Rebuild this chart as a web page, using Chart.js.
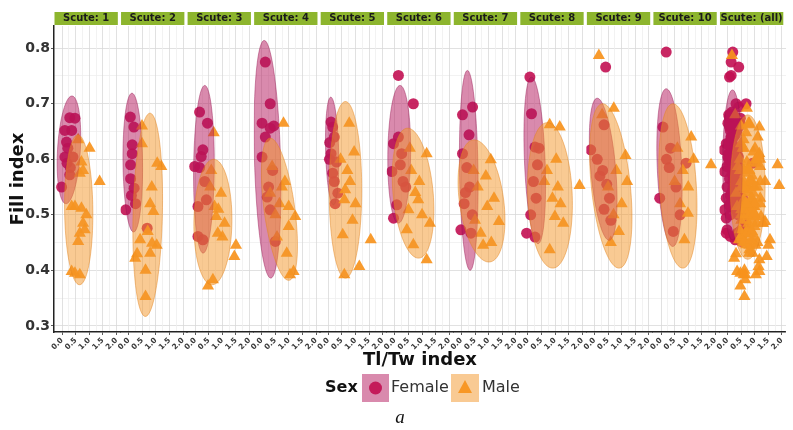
<!DOCTYPE html>
<html>
<head>
<meta charset="utf-8">
<script src="https://cdn.jsdelivr.net/npm/chart.js@4.4.0/dist/chart.umd.min.js"></script>
<style>
  html, body { margin: 0; padding: 0; background: #fff; overflow: hidden; }
</style>
</head>
<body>
<canvas id="chart" width="793" height="430"></canvas>
<script>
// facet labels
const facetLabels = ["Scute: 1", "Scute: 2", "Scute: 3", "Scute: 4", "Scute: 5",
  "Scute: 6", "Scute: 7", "Scute: 8", "Scute: 9", "Scute: 10", "Scute: (all)"];

// axis ticks
const xTicks = [0, 0.5, 1, 1.5, 2];
const xMinorTicks = [0.25, 0.75, 1.25, 1.75];
const yTicks = [0.3, 0.4, 0.5, 0.6, 0.7, 0.8];
const yMinorTicks = [0.35, 0.45, 0.55, 0.65, 0.75];

// female (Tl/Tw index, Fill index), one list per scute
const femaleX = [
  [0.28, 0.47, 0.10, 0.35, 0.16, 0.10, 0.40, 0.28, -0.02, 0.21, 0.18, 0.30],
  [0.06, 0.19, 0.13, 0.13, 0.07, 0.07, -0.11, 0.25, 0.68, 0.20, 0.10],
  [0.16, 0.45, 0.28, 0.22, -0.02, 0.16, 0.10, 0.10, 0.41, 0.28, 0.35],
  [0.13, 0.31, 0.01, 0.31, 0.44, 0.13, 0.01, 0.20, 0.31, 0.50, 0.40, 0.25],
  [0.10, 0.16, 0.22, 0.10, 0.04, 0.16, 0.22, 0.35, 0.25, 0.30, 0.05],
  [0.13, 0.68, -0.05, 0.13, 0.25, -0.11, 0.07, -0.05, 0.30, 0.20, 0.40],
  [0.04, 0.41, 0.28, 0.04, 0.20, 0.30, 0.10, -0.02, 0.35, 0.40, 0.15],
  [0.07, 0.13, 0.26, 0.35, 0.20, 0.30, 0.26, -0.05, 0.10, 0.40],
  [0.41, 0.35, -0.14, 0.10, 0.30, 0.45, 0.55, 0.35, 0.60, 0.20],
  [0.19, 0.07, 0.35, 0.30, 0.92, 0.55, -0.05, 0.70, 0.45, 0.20]
];
const femaleY = [
  [0.675, 0.674, 0.652, 0.652, 0.631, 0.604, 0.604, 0.572, 0.550, 0.620, 0.593, 0.585],
  [0.676, 0.658, 0.626, 0.610, 0.590, 0.565, 0.509, 0.520, 0.476, 0.548, 0.535],
  [0.685, 0.665, 0.617, 0.605, 0.587, 0.585, 0.515, 0.461, 0.527, 0.455, 0.560],
  [0.775, 0.700, 0.665, 0.656, 0.660, 0.640, 0.604, 0.532, 0.509, 0.452, 0.580, 0.550],
  [0.667, 0.658, 0.640, 0.610, 0.600, 0.575, 0.560, 0.539, 0.520, 0.595, 0.630],
  [0.751, 0.700, 0.628, 0.640, 0.610, 0.578, 0.518, 0.494, 0.560, 0.590, 0.550],
  [0.680, 0.694, 0.644, 0.610, 0.585, 0.550, 0.520, 0.473, 0.467, 0.500, 0.540],
  [0.748, 0.682, 0.622, 0.590, 0.560, 0.530, 0.460, 0.467, 0.500, 0.620],
  [0.766, 0.662, 0.617, 0.600, 0.580, 0.555, 0.530, 0.510, 0.490, 0.570],
  [0.793, 0.658, 0.620, 0.585, 0.593, 0.550, 0.530, 0.500, 0.470, 0.600]
];

// male
const maleX = [
  [1.01, 0.59, 0.71, 0.65, 1.38, 0.77, 0.35, 0.47, 0.71, 0.89, 0.77, 0.83, 0.65, 0.59, 0.35, 0.65, 0.47],
  [0.49, 0.49, 1.05, 1.20, 0.85, 0.79, 0.91, 0.42, 0.86, 1.03, 0.24, 0.79, 0.62, 0.62, 0.31, 0.70],
  [0.68, 0.59, 0.95, 0.77, 1.08, 0.83, 1.50, 1.44, 0.47, 0.65, 0.71, 0.55, 0.85, 1.00],
  [0.80, 0.38, 0.74, 0.31, 0.99, 1.23, 0.99, 0.92, 1.17, 1.04, 0.56, 0.65, 0.85, 0.50],
  [0.77, 0.95, 0.59, 0.89, 0.53, 1.56, 1.14, 0.59, 0.70, 0.80, 0.45, 1.00, 0.62],
  [1.17, 1.29, 0.44, 0.68, 1.17, 0.50, 0.86, 0.60, 0.90, 0.75, 1.00, 0.55],
  [1.08, 0.95, 1.38, 0.71, 0.60, 0.90, 1.20, 0.50, 0.80, 1.10, 0.45],
  [0.80, 1.17, 1.04, 0.99, 1.30, 0.80, 1.90, 0.60, 0.90, 1.10, 0.70, 1.20],
  [0.16, 0.71, 0.28, 1.14, 0.80, 0.50, 1.00, 0.70, 0.90, 0.60, 1.20],
  [1.11, 1.84, 0.80, 1.00, 0.99, 0.86, 0.60, 0.70, 1.20, 0.50]
];
const maleY = [
  [0.620, 0.635, 0.595, 0.575, 0.560, 0.580, 0.515, 0.515, 0.512, 0.500, 0.485, 0.473, 0.467, 0.452, 0.398, 0.392, 0.395],
  [0.660, 0.628, 0.593, 0.587, 0.550, 0.520, 0.506, 0.455, 0.449, 0.445, 0.422, 0.431, 0.400, 0.353, 0.430, 0.470],
  [0.648, 0.580, 0.539, 0.497, 0.485, 0.467, 0.445, 0.425, 0.372, 0.383, 0.515, 0.550, 0.510, 0.460],
  [0.665, 0.587, 0.550, 0.539, 0.515, 0.497, 0.479, 0.431, 0.398, 0.392, 0.460, 0.520, 0.560, 0.500],
  [0.665, 0.613, 0.527, 0.490, 0.464, 0.455, 0.407, 0.392, 0.580, 0.560, 0.600, 0.520, 0.545],
  [0.610, 0.485, 0.473, 0.446, 0.419, 0.509, 0.527, 0.580, 0.560, 0.540, 0.500, 0.620],
  [0.599, 0.515, 0.488, 0.467, 0.550, 0.570, 0.530, 0.490, 0.445, 0.450, 0.580],
  [0.662, 0.658, 0.600, 0.497, 0.485, 0.437, 0.553, 0.560, 0.530, 0.550, 0.580, 0.520],
  [0.787, 0.692, 0.680, 0.607, 0.580, 0.550, 0.520, 0.500, 0.470, 0.450, 0.560],
  [0.640, 0.590, 0.580, 0.550, 0.503, 0.455, 0.620, 0.520, 0.600, 0.560]
];

// ellipses: [centre x, centre y, half width, half height, x shift of the top]
const femaleEllipse = [
  [0.25, 0.617, 0.42, 0.097, 0.11], [0.15, 0.594, 0.36, 0.125, -0.03],
  [0.32, 0.582, 0.38, 0.151, 0.03], [0.21, 0.600, 0.48, 0.214, -0.12],
  [0.14, 0.615, 0.24, 0.097, -0.05], [0.16, 0.609, 0.42, 0.124, 0.03],
  [0.27, 0.580, 0.34, 0.180, -0.05], [0.25, 0.598, 0.38, 0.150, -0.12],
  [0.32, 0.582, 0.46, 0.128, -0.22], [0.31, 0.585, 0.45, 0.142, -0.12],
  [0.18, 0.590, 0.36, 0.135, 0.00]
];
const maleEllipse = [
  [0.61, 0.509, 0.52, 0.135, -0.03], [0.70, 0.500, 0.54, 0.183, 0.085],
  [0.65, 0.487, 0.70, 0.113, 0.03], [0.65, 0.510, 0.57, 0.128, -0.34],
  [0.63, 0.545, 0.60, 0.159, 0.00], [0.67, 0.539, 0.74, 0.117, -0.20],
  [0.74, 0.525, 0.82, 0.110, -0.27], [0.81, 0.535, 0.82, 0.131, -0.10],
  [0.60, 0.552, 0.72, 0.148, -0.30], [0.62, 0.552, 0.68, 0.148, -0.18],
  [0.74, 0.550, 0.64, 0.130, 0.00]
];

const FEMALE = "rgba(194, 16, 82, 0.9)";
const MALE = "rgba(247, 146, 28, 0.92)";
const FEMALE_FILL = "rgba(180, 22, 92, 0.5)";
const MALE_FILL = "rgba(244, 150, 40, 0.5)";
const FEMALE_LINE = "rgba(150, 20, 80, 0.55)";
const MALE_LINE = "rgba(225, 130, 30, 0.6)";
const FONT = "DejaVu Sans";

// the "(all)" facet holds every scute together
const allFemaleX = femaleX.flat(), allFemaleY = femaleY.flat();
const allMaleX = maleX.flat(), allMaleY = maleY.flat();

function toPoints(xs, ys) {
  return xs.map((x, i) => ({ x: x, y: ys[i] }));
}

const datasets = [];
const scales = {
  y: {
    type: "linear",
    position: "left",
    min: 0.289,
    max: 0.84,
    afterBuildTicks: (s) => {
      s.ticks = yTicks.concat(yMinorTicks).sort((a, b) => a - b).map((v) => ({ value: v }));
    },
    afterFit: (s) => { s.width = 54; },
    ticks: {
      callback: (v) => (yTicks.includes(v) ? v.toFixed(1) : ""),
      font: { family: FONT, weight: "bold", size: 14 },
      color: "#333",
      padding: 1,
    },
    grid: {
      color: (c) => (yTicks.includes(c.tick.value) ? "#d9d9d9" : "#efefef"),
      lineWidth: 0.8,
      tickLength: 3,
      tickColor: (c) => (yTicks.includes(c.tick.value) ? "#333" : "rgba(0,0,0,0)"),
    },
    border: { color: "#222", width: 1.5 },
    title: {
      display: true,
      text: "Fill index",
      font: { family: FONT, weight: "bold", size: 18 },
      color: "#111",
      padding: { top: 8, bottom: 0 },
    },
  },
};

facetLabels.forEach((label, k) => {
  const id = "x" + k;
  const fx = k < 10 ? femaleX[k] : allFemaleX;
  const fy = k < 10 ? femaleY[k] : allFemaleY;
  const mx = k < 10 ? maleX[k] : allMaleX;
  const my = k < 10 ? maleY[k] : allMaleY;

  datasets.push({
    label: "Female",
    data: toPoints(fx, fy),
    xAxisID: id,
    yAxisID: "y",
    pointStyle: "circle",
    pointRadius: 5.5,
    backgroundColor: FEMALE,
    borderWidth: 0,
    order: 1,
  });
  datasets.push({
    label: "Male",
    data: toPoints(mx, my),
    xAxisID: id,
    yAxisID: "y",
    pointStyle: "triangle",
    pointRadius: 7,
    backgroundColor: MALE,
    borderWidth: 0,
    order: 0,
  });

  scales[id] = {
    type: "linear",
    position: "bottom",
    stack: "facets",
    stackWeight: 1,
    min: -0.3,
    max: 2.15,
    afterBuildTicks: (s) => {
      s.ticks = xTicks.concat(xMinorTicks).sort((a, b) => a - b).map((v) => ({ value: v }));
    },
    afterFit: (s) => { s.height = 98; },
    ticks: {
      autoSkip: false,
      minRotation: 45,
      maxRotation: 45,
      padding: 1,
      callback: (v) => (xTicks.includes(v) ? v.toFixed(1) : ""),
      font: { family: FONT, weight: "bold", size: 7.5 },
      color: "#3a3a3a",
    },
    grid: {
      color: (c) => (xTicks.includes(c.tick.value) ? "#d9d9d9" : "#efefef"),
      lineWidth: 0.8,
      tickLength: 3,
      tickColor: (c) => (xTicks.includes(c.tick.value) ? "#333" : "rgba(0,0,0,0)"),
    },
    border: { color: "#222", width: 1.5 },
  };
});

function drawEllipse(ctx, xs, ys, e, fill, line) {
  const [cx, cy, rx, ry, shift] = e;
  ctx.beginPath();
  for (let i = 0; i <= 90; i++) {
    const t = (i / 90) * Math.PI * 2;
    const px = xs.getPixelForValue(cx + rx * Math.cos(t) + shift * Math.sin(t));
    const py = ys.getPixelForValue(cy + ry * Math.sin(t));
    if (i === 0) ctx.moveTo(px, py);
    else ctx.lineTo(px, py);
  }
  ctx.closePath();
  ctx.fillStyle = fill;
  ctx.fill();
  ctx.strokeStyle = line;
  ctx.lineWidth = 0.8;
  ctx.stroke();
}

const facetPlugin = {
  id: "facets",
  afterDatasetsDraw(chart) {
    const ctx = chart.ctx;
    const area = chart.chartArea;
    const ys = chart.scales.y;
    facetLabels.forEach((label, k) => {
      const xs = chart.scales["x" + k];
      ctx.save();
      ctx.beginPath();
      ctx.rect(xs.left, area.top, xs.getPixelForValue(2.05) - xs.left, area.bottom - area.top);
      ctx.clip();
      drawEllipse(ctx, xs, ys, femaleEllipse[k], FEMALE_FILL, FEMALE_LINE);
      drawEllipse(ctx, xs, ys, maleEllipse[k], MALE_FILL, MALE_LINE);
      ctx.restore();
    });
  },
  afterDraw(chart) {
    const ctx = chart.ctx;
    const area = chart.chartArea;
    ctx.save();

    // strips
    facetLabels.forEach((label, k) => {
      const xs = chart.scales["x" + k];
      const x0 = xs.left + 0.5;
      const x1 = xs.getPixelForValue(2.05);
      ctx.fillStyle = "#8db52e";
      ctx.fillRect(x0, 12, x1 - x0, 13);
      ctx.fillStyle = "#1a1a1a";
      ctx.font = "bold 10px '" + FONT + "'";
      ctx.textAlign = "center";
      ctx.textBaseline = "middle";
      ctx.fillText(label, (x0 + x1) / 2, 18.8);
    });

    // x title
    ctx.fillStyle = "#111";
    ctx.font = "bold 18px '" + FONT + "'";
    ctx.textAlign = "center";
    ctx.textBaseline = "middle";
    ctx.fillText("Tl/Tw index", (area.left + area.right) / 2, 360);

    // legend
    const ly = 388;
    ctx.textAlign = "left";
    ctx.font = "bold 16px '" + FONT + "'";
    ctx.fillStyle = "#111";
    ctx.fillText("Sex", 325, ly);

    ctx.fillStyle = FEMALE_FILL;
    ctx.fillRect(362, ly - 14, 27, 28);
    ctx.fillStyle = FEMALE;
    ctx.beginPath();
    ctx.arc(375.5, ly, 6.5, 0, Math.PI * 2);
    ctx.fill();
    ctx.fillStyle = "#333";
    ctx.font = "16px '" + FONT + "'";
    ctx.fillText("Female", 391, ly);

    ctx.fillStyle = MALE_FILL;
    ctx.fillRect(451, ly - 14, 28, 28);
    ctx.fillStyle = MALE;
    ctx.beginPath();
    ctx.moveTo(465, ly - 8);
    ctx.lineTo(472, ly + 5);
    ctx.lineTo(458, ly + 5);
    ctx.closePath();
    ctx.fill();
    ctx.fillStyle = "#333";
    ctx.fillText("Male", 482, ly);

    // caption
    ctx.fillStyle = "#111";
    ctx.font = "italic 19px 'Liberation Serif'";
    ctx.textAlign = "center";
    ctx.fillText("a", 400, 418);
    ctx.restore();
  },
};

new Chart(document.getElementById("chart"), {
  type: "scatter",
  data: { datasets: datasets },
  options: {
    responsive: false,
    animation: false,
    events: [],
    layout: { padding: { top: 26, left: 0, right: 0, bottom: 0 } },
    plugins: { legend: { display: false }, tooltip: { enabled: false } },
    scales: scales,
  },
  plugins: [facetPlugin],
});
</script>
</body>
</html>
